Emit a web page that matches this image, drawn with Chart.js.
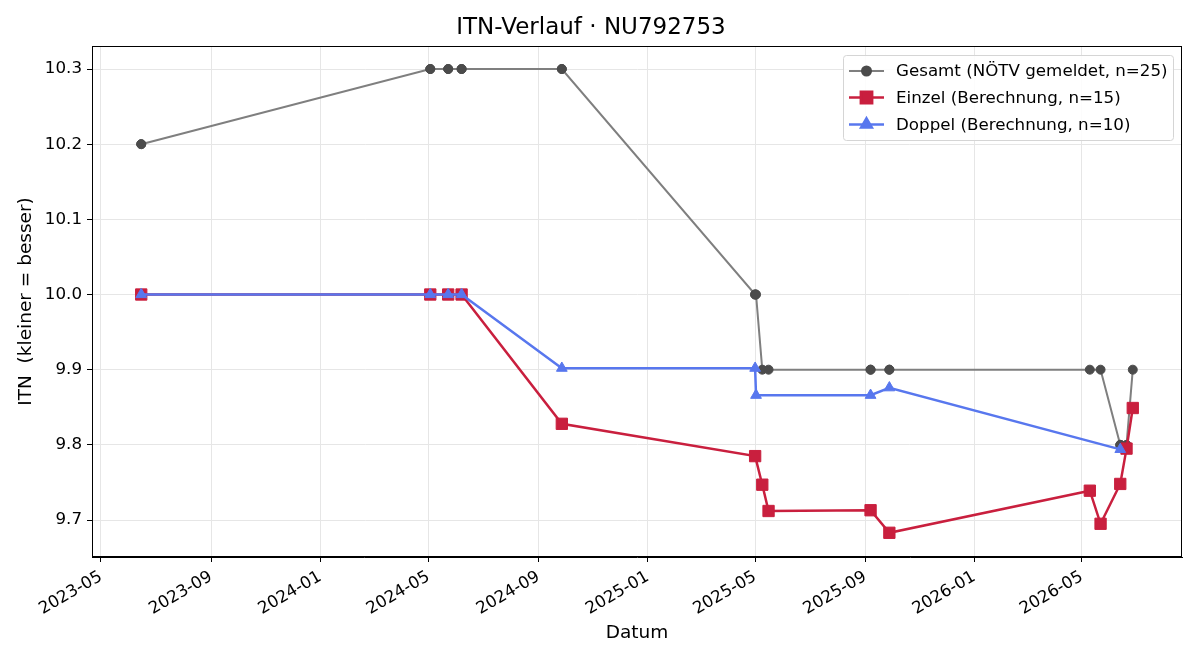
<!DOCTYPE html>
<html>
<head>
<meta charset="utf-8">
<script src="https://cdn.jsdelivr.net/npm/chart.js@4.4.0/dist/chart.umd.min.js"></script>
<style>
  html, body { margin: 0; padding: 0; background: #fff; }
  #wrap { width: 1200px; height: 660px; }
</style>
</head>
<body>
<div id="wrap"><canvas id="itnChart" width="1200" height="660"></canvas></div>
<script>
// Gesamt (NÖTV gemeldet) - one entry per match, so shared dates repeat
const gesamtDates = [
    "2023-06-15", "2023-06-15", "2024-05-03", "2024-05-03", "2024-05-23", "2024-05-23",
    "2024-06-07", "2024-06-07", "2024-09-27", "2024-09-27", "2025-05-01", "2025-05-01",
    "2025-05-02", "2025-05-09", "2025-05-16", "2025-09-07", "2025-09-07", "2025-09-28",
    "2025-09-28", "2026-05-10", "2026-05-22", "2026-06-13", "2026-06-13", "2026-06-20",
    "2026-06-27"
];
const gesamtItn = [
    10.2, 10.2, 10.3, 10.3, 10.3, 10.3,
    10.3, 10.3, 10.3, 10.3, 10.0, 10.0,
    10.0, 9.9, 9.9, 9.9, 9.9, 9.9,
    9.9, 9.9, 9.9, 9.8, 9.8, 9.8,
    9.9
];

// Einzel (Berechnung)
const einzelDates = [
    "2023-06-15", "2024-05-03", "2024-05-23", "2024-06-07", "2024-09-27",
    "2025-05-01", "2025-05-09", "2025-05-16", "2025-09-07", "2025-09-28",
    "2026-05-10", "2026-05-22", "2026-06-13", "2026-06-20", "2026-06-27"
];
const einzelItn = [
    10.0, 10.0, 10.0, 10.0, 9.828,
    9.785, 9.747, 9.712, 9.713, 9.683,
    9.739, 9.695, 9.748, 9.795, 9.849
];

// Doppel (Berechnung)
const doppelDates = [
    "2023-06-15", "2024-05-03", "2024-05-23", "2024-06-07", "2024-09-27",
    "2025-05-01", "2025-05-02", "2025-09-07", "2025-09-28", "2026-06-13"
];
const doppelItn = [
    10.0, 10.0, 10.0, 10.0, 9.902,
    9.902, 9.866, 9.866, 9.876, 9.794
];

const xTickLabels = ["2023-05", "2023-09", "2024-01", "2024-05", "2024-09",
                     "2025-01", "2025-05", "2025-09", "2026-01", "2026-05"];
const xLimits = ["2023-04-21", "2026-08-21"];
const yTicks = [9.7, 9.8, 9.9, 10.0, 10.1, 10.2, 10.3];
const yLimits = [9.6508, 10.3306];

const legendLabels = [
    "Gesamt (NÖTV gemeldet, n=25)",
    "Einzel (Berechnung, n=15)",
    "Doppel (Berechnung, n=10)"
];

const FONT = "'DejaVu Sans', sans-serif";
const GREY_LINE = "#7f7f7f", GREY_PT = "#4b4b4b";
const RED = "#c91f3e";
const BLUE = "#5877ee";

function toMs(s) {
    const [y, m, d] = s.split("-").map(Number);
    return Date.UTC(y, m - 1, d || 1);
}

function points(dates, values) {
    return dates.map((d, i) => ({ x: toMs(d), y: values[i] }));
}

// black frame around the plot area (top/right spines too)
const framePlugin = {
    id: "frame",
    afterDatasetsDraw(chart) {
        const { ctx, chartArea: a } = chart;
        ctx.save();
        ctx.strokeStyle = "#000";
        ctx.lineWidth = 1;
        ctx.strokeRect(a.left + 0.5, a.top + 0.5, a.right - a.left - 1, a.bottom - a.top - 1);
        ctx.restore();
    }
};

// matplotlib style legend inside the axes, upper right
const legendPlugin = {
    id: "mplLegend",
    afterDraw(chart) {
        const { ctx } = chart;
        const box = { x: 843, y: 55, w: 330, h: 85 };
        ctx.save();
        ctx.fillStyle = "rgba(255,255,255,0.85)";
        ctx.strokeStyle = "#d5d5d5";
        ctx.lineWidth = 1;
        ctx.beginPath();
        ctx.roundRect(box.x + 0.5, box.y + 0.5, box.w, box.h, 3);
        ctx.fill();
        ctx.stroke();

        const rows = [71, 97.5, 124.5];
        chart.data.datasets.forEach((ds, i) => {
            const y = rows[i];
            ctx.strokeStyle = ds.borderColor;
            ctx.lineWidth = ds.borderWidth;
            ctx.beginPath();
            ctx.moveTo(849, y);
            ctx.lineTo(884, y);
            ctx.stroke();
            ctx.fillStyle = ds.pointBackgroundColor;
            ctx.strokeStyle = ds.pointBorderColor;
            Chart.helpers.drawPoint(ctx, {
                pointStyle: ds.pointStyle, radius: ds.pointRadius, rotation: 0, borderWidth: 1
            }, 866.5, y);

            ctx.fillStyle = "#000";
            ctx.font = "16.7px " + FONT;
            ctx.textBaseline = "middle";
            ctx.textAlign = "left";
            ctx.fillText(legendLabels[i], 896, y + 1);
        });
        ctx.restore();
    }
};

const ctx = document.getElementById("itnChart").getContext("2d");

new Chart(ctx, {
    type: "line",
    data: {
        datasets: [
            {
                label: legendLabels[0],
                data: points(gesamtDates, gesamtItn),
                borderColor: GREY_LINE,
                borderWidth: 2,
                pointStyle: "circle",
                pointRadius: 4.5,
                pointBackgroundColor: GREY_PT,
                pointBorderColor: GREY_PT,
                pointBorderWidth: 1,
                order: 3
            },
            {
                label: legendLabels[1],
                data: points(einzelDates, einzelItn),
                borderColor: RED,
                borderWidth: 2.5,
                pointStyle: "rect",
                pointRadius: 8,
                pointBackgroundColor: RED,
                pointBorderColor: RED,
                pointBorderWidth: 1,
                order: 2
            },
            {
                label: legendLabels[2],
                data: points(doppelDates, doppelItn),
                borderColor: BLUE,
                borderWidth: 2.5,
                pointStyle: "triangle",
                pointRadius: 6.2,
                pointBackgroundColor: BLUE,
                pointBorderColor: BLUE,
                pointBorderWidth: 1,
                order: 1
            }
        ]
    },
    options: {
        responsive: false,
        animation: false,
        devicePixelRatio: 1,
        layout: { padding: { left: 0, right: 18, top: 0, bottom: 0 } },
        elements: { line: { tension: 0 } },
        plugins: {
            legend: { display: false },
            tooltip: { enabled: false },
            title: {
                display: true,
                text: "ITN-Verlauf · NU792753",
                color: "#000",
                font: { family: FONT, size: 23, weight: "normal", lineHeight: 1.2 },
                padding: { top: 14, bottom: 4.4 }
            }
        },
        scales: {
            x: {
                type: "linear",
                min: toMs(xLimits[0]),
                max: toMs(xLimits[1]),
                afterBuildTicks: s => { s.ticks = xTickLabels.map(l => ({ value: toMs(l) })); },
                afterFit: s => { s.height = 103; },
                ticks: {
                    autoSkip: false,
                    minRotation: 30,
                    maxRotation: 30,
                    color: "#000",
                    padding: 5,
                    font: { family: FONT, size: 16.7 },
                    callback: (v, i) => xTickLabels[i]
                },
                grid: { color: "#e6e6e6", tickColor: "#000", tickLength: 5, lineWidth: 1 },
                border: { color: "#000", width: 1 },
                title: {
                    display: true,
                    text: "Datum",
                    color: "#000",
                    font: { family: FONT, size: 18.5, lineHeight: 1.2 },
                    padding: { top: 0, bottom: 16 }
                }
            },
            y: {
                min: yLimits[0],
                max: yLimits[1],
                afterBuildTicks: s => { s.ticks = yTicks.map(v => ({ value: v })); },
                afterFit: s => { s.width = 92; },
                ticks: {
                    color: "#000",
                    padding: 5,
                    font: { family: FONT, size: 16.7 },
                    callback: v => Number(v).toFixed(1)
                },
                grid: { color: "#e6e6e6", tickColor: "#000", tickLength: 5, lineWidth: 1 },
                border: { color: "#000", width: 1 },
                title: {
                    display: true,
                    text: "ITN  (kleiner = besser)",
                    color: "#000",
                    font: { family: FONT, size: 18.5, lineHeight: 1.2 },
                    padding: { top: 15, bottom: 0 }
                }
            }
        }
    },
    plugins: [framePlugin, legendPlugin]
});
</script>
</body>
</html>
